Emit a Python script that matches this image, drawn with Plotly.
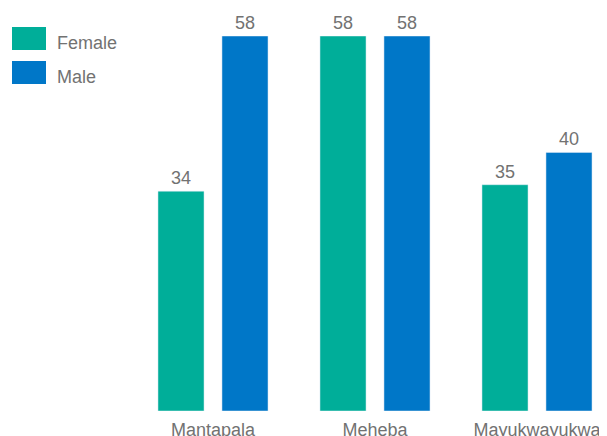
import plotly.graph_objects as go

categories = ["Mantapala", "Meheba", "Mayukwayukwa"]
female = [34, 58, 35]
male = [58, 58, 40]
series_names = ["Female", "Male"]
colors = ["#00ae99", "#0077c8"]

# page body has an 8px offset; figure sized to fit the window
OFF = 8
W, H = 607 - OFF, 436 - OFF
L, R, T, B = 132 - OFF, 0, 36 - OFF, 25
pw = W - L - R
ph = H - T - B

font_fam = "Liberation Sans, Arial, sans-serif"
gray = "#727272"

fig = go.Figure()
for name, vals, c in zip(series_names, [female, male], colors):
    fig.add_trace(go.Bar(
        x=categories, y=vals, name=name, marker_color=c,
        text=[str(v) for v in vals], textposition="outside",
        textfont=dict(size=18, color=gray, family=font_fam),
        cliponaxis=False, showlegend=False,
    ))

# legend drawn manually with large swatches (screen pixel coords)
def px_to_paper_x(px):
    return (px - OFF - L) / pw

def py_to_paper_y(py):
    return (H - B - (py - OFF)) / ph

shapes = []
annotations = []
for i, (name, c) in enumerate(zip(series_names, colors)):
    top = 27 + i * 34
    shapes.append(dict(type="rect", xref="paper", yref="paper",
                       x0=px_to_paper_x(12), x1=px_to_paper_x(46),
                       y0=py_to_paper_y(top + 23), y1=py_to_paper_y(top),
                       fillcolor=c, line_width=0))
    annotations.append(dict(text=name, xref="paper", yref="paper",
                            x=px_to_paper_x(55), y=py_to_paper_y(top + 16),
                            xanchor="left", yanchor="middle", showarrow=False,
                            font=dict(size=18, color=gray, family=font_fam)))

fig.update_layout(
    width=W, height=H,
    margin=dict(l=L, r=R, t=T, b=B, pad=0, autoexpand=False),
    paper_bgcolor="white", plot_bgcolor="white",
    barmode="group", bargap=0.21, bargroupgap=0.28,
    shapes=shapes, annotations=annotations,
    font=dict(family=font_fam, color=gray),
    xaxis=dict(range=[-0.5, -0.5 + pw / 162.0], showgrid=False, zeroline=False,
               showline=False, ticks="", ticklabelstandoff=6, automargin=False,
               tickfont=dict(size=18, color=gray, family=font_fam)),
    yaxis=dict(range=[0, 58], visible=False, showgrid=False, zeroline=False),
)

fig.write_html("out.html")
